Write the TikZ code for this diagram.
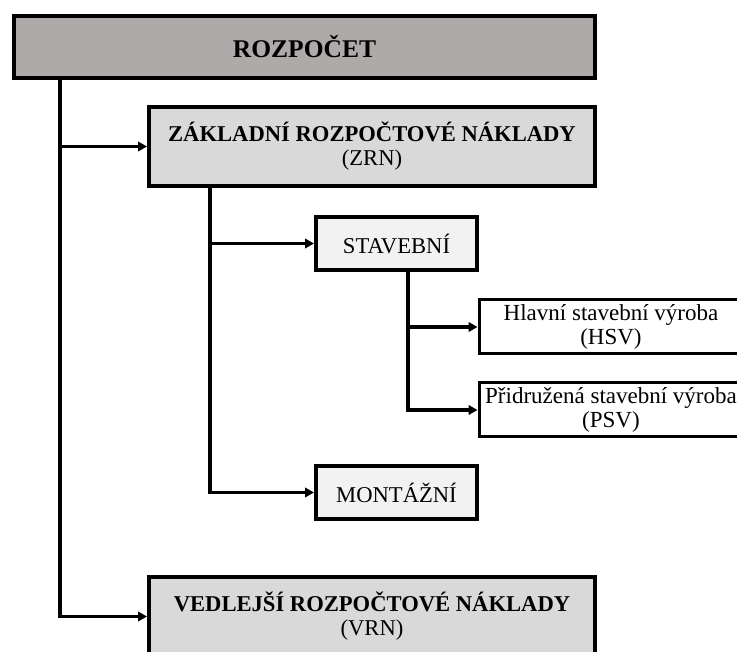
\documentclass[tikz,border=0pt]{standalone}
\usepackage{fontspec}
\setmainfont{Liberation Serif}
\usetikzlibrary{arrows.meta, positioning, calc}

\definecolor{topgray}{HTML}{AEAAA9}
\definecolor{midgray}{HTML}{D9D9D9}
\definecolor{lightgray}{HTML}{F2F2F2}

\begin{document}
\begin{tikzpicture}[x=1pt, y=-1pt,
    topbox/.style={draw, line width=4pt, fill=topgray, anchor=north west, align=center, inner sep=0pt,
        minimum width=581pt, minimum height=62pt, font=\fontsize{25.5}{28}\selectfont\bfseries},
    costbox/.style={draw, line width=4pt, fill=midgray, anchor=north west, align=center, inner sep=0pt,
        minimum width=446pt, minimum height=79pt, font=\fontsize{22.6}{24}\selectfont},
    partbox/.style={draw, line width=4pt, fill=lightgray, anchor=north west, align=center, inner sep=0pt,
        minimum width=161pt, minimum height=53pt, font=\fontsize{22.6}{25}\selectfont},
    workbox/.style={draw, line width=3pt, fill=white, anchor=north west, align=center, inner sep=0pt,
        minimum width=264pt, minimum height=54pt, font=\fontsize{23}{24}\selectfont},
    conn/.style={line width=3.5pt, -{Triangle[length=9pt, width=9.5pt]}}]
    \useasboundingbox (0,0) rectangle (737,652);
    \clip (0,0) rectangle (737,652);
    % ROZPOCET
    \node[topbox] (rozpocet) at (12,14) {ROZPOČET};
    % ZRN
    \node[costbox] (zrn) at (147,105) {\textbf{ZÁKLADNÍ ROZPOČTOVÉ NÁKLADY}\\(ZRN)};
    % VRN
    \node[costbox] (vrn) at (147,575) {\textbf{VEDLEJŠÍ ROZPOČTOVÉ NÁKLADY}\\(VRN)};
    % Stavebni / montazni
    \node[partbox] (stav) at (314,215) {STAVEBNÍ};
    \node[partbox] (mont) at (314,464) {MONTÁŽNÍ};
    % HSV / PSV
    \node[workbox] (hsv) at (477.5,298.5) {Hlavní stavební výroba\\(HSV)};
    \node[workbox] (psv) at (477.5,381.5) {Přidružená stavební výroba\\(PSV)};
    % Connectors
    \draw[conn] ([xshift=48pt]rozpocet.south west) |- (zrn.west);
    \draw[conn] ([xshift=48pt]rozpocet.south west) |- (vrn.west);
    \draw[conn] ([xshift=63pt]zrn.south west) |- (stav.west);
    \draw[conn] ([xshift=63pt]zrn.south west) |- (mont.west);
    \draw[conn] ([xshift=94pt]stav.south west) |- (hsv.west);
    \draw[conn] ([xshift=94pt]stav.south west) |- (psv.west);
\end{tikzpicture}
\end{document}
